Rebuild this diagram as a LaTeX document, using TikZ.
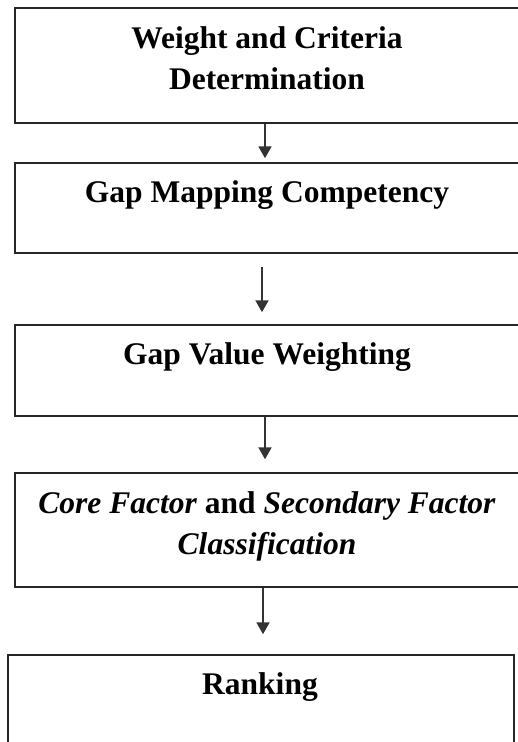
\documentclass[tikz,border=0pt]{standalone}
\usepackage{fontspec}
\setmainfont{Liberation Serif}
\usetikzlibrary{arrows.meta}
\begin{document}
\begin{tikzpicture}[x=1pt,y=-1pt,
  box/.style={draw=black!85, line width=1.5pt, inner sep=0pt, rectangle},
  lbl/.style={anchor=base, inner sep=0pt, font=\fontsize{31.5}{41}\selectfont\bfseries},
  arr/.style={draw=black!80, line width=2pt, -{Triangle[length=12pt,width=13pt]}}]
\useasboundingbox (0,0) rectangle (518,742);
\clip (0,0) rectangle (518,742);
% boxes
\node[box, minimum width=504pt, minimum height=115pt] (b1) at (267,65.5) {};
\node[box, minimum width=504pt, minimum height=90pt] (b2) at (267,208) {};
\node[box, minimum width=504pt, minimum height=91pt] (b3) at (267,370.5) {};
\node[box, minimum width=504pt, minimum height=114pt] (b4) at (267,530) {};
\node[box, minimum width=506pt, minimum height=160pt] (b5) at (261,735) {};
% labels
\node[lbl] (t1a) at (267,48) {Weight and Criteria};
\node[lbl] (t1b) at (267,89) {Determination};
\node[lbl] (t2) at (267,202) {Gap Mapping Competency};
\node[lbl] (t3) at (267,364) {Gap Value Weighting};
\node[lbl] (t4a) at (267,513) {\textit{Core Factor} and \textit{Secondary Factor}};
\node[lbl] (t4b) at (267,554) {\textit{Classification}};
\node[lbl] (t5) at (260,694) {Ranking};
% arrows
\draw[arr, shorten >=4pt] ([xshift=-2pt]b1.south) -- ([xshift=-2pt]b1.south |- b2.north);
\draw[arr, shorten <=13pt, shorten >=12pt] ([xshift=-5pt]b2.south) -- ([xshift=-5pt]b2.south |- b3.north);
\draw[arr, shorten >=13pt] ([xshift=-2pt]b3.south) -- ([xshift=-2pt]b3.south |- b4.north);
\draw[arr, shorten >=20pt] ([xshift=-4pt]b4.south) -- ([xshift=-4pt]b4.south |- b5.north);
\end{tikzpicture}
\end{document}
